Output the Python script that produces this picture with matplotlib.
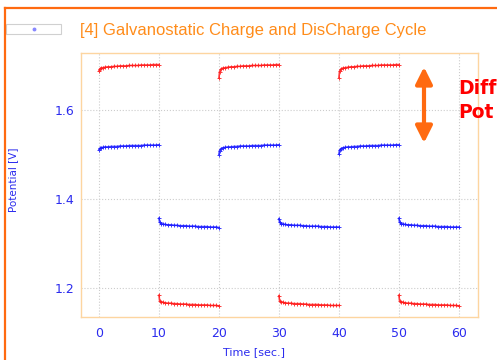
import matplotlib; matplotlib.use("Agg")
import matplotlib.pyplot as plt
from matplotlib.lines import Line2D
from matplotlib.patches import Rectangle

# time within each 10 s half-cycle
t_rel = [0.0, 0.1, 0.3, 0.6, 1.0, 1.5, 2.0, 2.5, 3.0, 3.5, 4.0, 4.5,
         5.0, 5.5, 6.0, 6.5, 7.0, 7.5, 8.0, 8.5, 9.0, 9.5, 10.0]
charge_starts = [0, 20, 40]
discharge_starts = [10, 30, 50]

red_charge = [
    [1.688, 1.692, 1.694, 1.695, 1.696, 1.697, 1.697, 1.698, 1.698, 1.699, 1.699, 1.699,
     1.700, 1.700, 1.700, 1.700, 1.701, 1.701, 1.701, 1.701, 1.702, 1.702, 1.702],
    [1.672, 1.686, 1.692, 1.694, 1.695, 1.696, 1.697, 1.697, 1.698, 1.698, 1.699, 1.699,
     1.699, 1.700, 1.700, 1.700, 1.700, 1.701, 1.701, 1.701, 1.701, 1.702, 1.702],
    [1.673, 1.687, 1.692, 1.694, 1.695, 1.696, 1.697, 1.697, 1.698, 1.698, 1.699, 1.699,
     1.699, 1.700, 1.700, 1.700, 1.701, 1.701, 1.701, 1.701, 1.701, 1.702, 1.702],
]
blue_charge = [
    [1.511, 1.514, 1.515, 1.516, 1.517, 1.517, 1.518, 1.518, 1.518, 1.519, 1.519, 1.519,
     1.520, 1.520, 1.520, 1.520, 1.520, 1.521, 1.521, 1.521, 1.521, 1.521, 1.522],
    [1.500, 1.509, 1.513, 1.515, 1.516, 1.517, 1.517, 1.518, 1.518, 1.519, 1.519, 1.519,
     1.519, 1.520, 1.520, 1.520, 1.520, 1.521, 1.521, 1.521, 1.521, 1.521, 1.522],
    [1.501, 1.510, 1.513, 1.515, 1.516, 1.517, 1.517, 1.518, 1.518, 1.519, 1.519, 1.519,
     1.520, 1.520, 1.520, 1.520, 1.521, 1.521, 1.521, 1.521, 1.521, 1.522, 1.522],
]
blue_discharge = [
    [1.357, 1.348, 1.345, 1.344, 1.343, 1.342, 1.342, 1.341, 1.341, 1.340, 1.340, 1.340,
     1.339, 1.339, 1.339, 1.338, 1.338, 1.338, 1.338, 1.337, 1.337, 1.337, 1.336],
    [1.356, 1.348, 1.345, 1.344, 1.343, 1.342, 1.342, 1.341, 1.341, 1.341, 1.340, 1.340,
     1.339, 1.339, 1.339, 1.339, 1.338, 1.338, 1.338, 1.337, 1.337, 1.337, 1.337],
    [1.357, 1.348, 1.345, 1.344, 1.343, 1.342, 1.342, 1.341, 1.341, 1.340, 1.340, 1.340,
     1.339, 1.339, 1.339, 1.338, 1.338, 1.338, 1.338, 1.337, 1.337, 1.337, 1.337],
]
red_discharge = [
    [1.184, 1.172, 1.169, 1.168, 1.167, 1.166, 1.166, 1.165, 1.165, 1.164, 1.164, 1.164,
     1.163, 1.163, 1.163, 1.162, 1.162, 1.162, 1.162, 1.161, 1.161, 1.161, 1.160],
    [1.183, 1.172, 1.169, 1.168, 1.167, 1.166, 1.166, 1.165, 1.165, 1.165, 1.164, 1.164,
     1.163, 1.163, 1.163, 1.163, 1.162, 1.162, 1.162, 1.161, 1.161, 1.161, 1.161],
    [1.184, 1.172, 1.169, 1.168, 1.167, 1.166, 1.166, 1.165, 1.165, 1.164, 1.164, 1.164,
     1.163, 1.163, 1.163, 1.162, 1.162, 1.162, 1.162, 1.161, 1.161, 1.161, 1.160],
]

x_ticks = [0, 10, 20, 30, 40, 50, 60]
y_ticks = [1.2, 1.4, 1.6]

ORANGE = "#FF6A10"
TICKBLUE = "#2B2BEE"
RED = "#FF1A1A"
BLUE = "#1A1AFF"

fig = plt.figure(figsize=(4.97, 3.6), dpi=100)
ax = fig.add_axes([0.163, 0.1194, 0.799, 0.7333])

def seg(starts, series, color):
    for s, vals in zip(starts, series):
        ax.plot([s + t for t in t_rel], vals, color=color, lw=1.2, alpha=0.85,
                marker="+", ms=3, mew=0.7)

seg(charge_starts, red_charge, RED)
seg(charge_starts, blue_charge, BLUE)
seg(discharge_starts, blue_discharge, BLUE)
seg(discharge_starts, red_discharge, RED)

ax.set_xlim(-3, 63.2)
ax.set_ylim(1.135, 1.728)
ax.set_xticks(x_ticks)
ax.set_yticks(y_ticks)
ax.set_yticklabels(["1.2", "1.4", "1.6"])
ax.tick_params(length=0, labelsize=9, labelcolor=TICKBLUE)
ax.tick_params(axis="x", pad=7)
ax.tick_params(axis="y", pad=5)
ax.grid(True, ls=":", color="#CCCCCC", lw=0.8)
for sp in ax.spines.values():
    sp.set_color("#FDD5A0")
    sp.set_linewidth(1.0)

fig.text(0.161, 0.914, "[4] Galvanostatic Charge and DisCharge Cycle",
         color="#FF8C1A", fontsize=12, family="Liberation Sans", va="center", ha="left")
fig.text(0.026, 0.50, "Potential [V]", color=TICKBLUE, fontsize=7.5,
         rotation=90, va="center", ha="center")
fig.text(0.511, 0.022, "Time [sec.]", color=TICKBLUE, fontsize=8,
         va="center", ha="center")

# legend-like box top left
fig.patches.append(Rectangle((6 / 497, 1 - 34 / 360), 55 / 497, 10 / 360,
                             transform=fig.transFigure, fill=False,
                             ec="#D0D0D0", lw=0.8))
fig.lines.append(Line2D([34 / 497], [1 - 29 / 360], transform=fig.transFigure,
                        marker="o", ms=1.8, color="#8888FF", ls="none"))

# page border
fig.lines.append(Line2D([5 / 497, 1.0], [1 - 8 / 360, 1 - 8 / 360],
                        transform=fig.transFigure, color=ORANGE, lw=1.6))
fig.lines.append(Line2D([5 / 497, 5 / 497], [1 - 8 / 360, 0.0],
                        transform=fig.transFigure, color=ORANGE, lw=1.6))

# difference arrow and label (label is clipped at the right edge in the source)
ax.annotate("", xy=(424 / 497, 1 - 67 / 360), xytext=(424 / 497, 1 - 143 / 360),
            xycoords="figure fraction", textcoords="figure fraction",
            arrowprops=dict(arrowstyle="<|-|>,head_length=1.0,head_width=0.5",
                            color=ORANGE, lw=3, shrinkA=0, shrinkB=0))
fig.text(458 / 497, 1 - 88 / 360, "Diff", color="#FF0000", fontsize=13.5,
         fontweight="bold", va="center", ha="left")
fig.text(458 / 497, 1 - 113 / 360, "Pot", color="#FF0000", fontsize=13.5,
         fontweight="bold", va="center", ha="left")

fig.savefig("out.png", dpi=100)
